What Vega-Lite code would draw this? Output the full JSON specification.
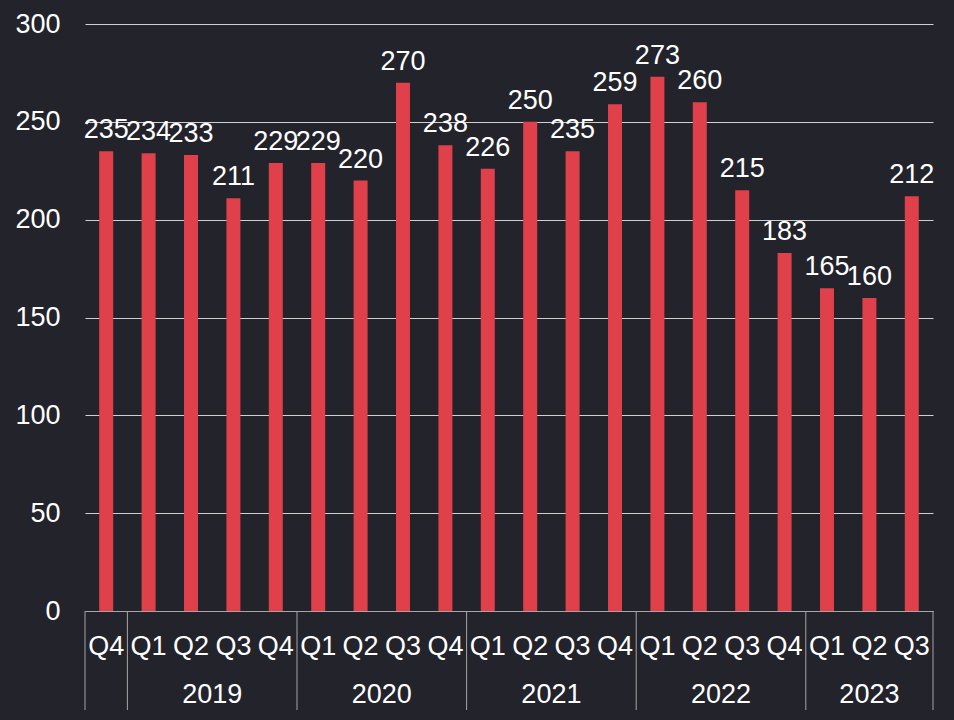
{
  "$schema": "https://vega.github.io/schema/vega-lite/v6.json",
  "width": 848,
  "height": 587,
  "autosize": {"type": "none"},
  "padding": {"left": 85, "top": 24, "right": 21, "bottom": 109},
  "background": "#23232b",
  "config": {
    "view": {"stroke": null},
    "font": "Liberation Sans",
    "text": {"font": "Liberation Sans"}
  },
  "data": {
    "values": [
      {"period": "2018 Q4", "year": "2018", "quarter": "Q4", "value": 235},
      {"period": "2019 Q1", "year": "2019", "quarter": "Q1", "value": 234},
      {"period": "2019 Q2", "year": "2019", "quarter": "Q2", "value": 233},
      {"period": "2019 Q3", "year": "2019", "quarter": "Q3", "value": 211},
      {"period": "2019 Q4", "year": "2019", "quarter": "Q4", "value": 229},
      {"period": "2020 Q1", "year": "2020", "quarter": "Q1", "value": 229},
      {"period": "2020 Q2", "year": "2020", "quarter": "Q2", "value": 220},
      {"period": "2020 Q3", "year": "2020", "quarter": "Q3", "value": 270},
      {"period": "2020 Q4", "year": "2020", "quarter": "Q4", "value": 238},
      {"period": "2021 Q1", "year": "2021", "quarter": "Q1", "value": 226},
      {"period": "2021 Q2", "year": "2021", "quarter": "Q2", "value": 250},
      {"period": "2021 Q3", "year": "2021", "quarter": "Q3", "value": 235},
      {"period": "2021 Q4", "year": "2021", "quarter": "Q4", "value": 259},
      {"period": "2022 Q1", "year": "2022", "quarter": "Q1", "value": 273},
      {"period": "2022 Q2", "year": "2022", "quarter": "Q2", "value": 260},
      {"period": "2022 Q3", "year": "2022", "quarter": "Q3", "value": 215},
      {"period": "2022 Q4", "year": "2022", "quarter": "Q4", "value": 183},
      {"period": "2023 Q1", "year": "2023", "quarter": "Q1", "value": 165},
      {"period": "2023 Q2", "year": "2023", "quarter": "Q2", "value": 160},
      {"period": "2023 Q3", "year": "2023", "quarter": "Q3", "value": 212}
    ]
  },
  "layer": [
    {
      "encoding": {
        "x": {
          "field": "period",
          "type": "ordinal",
          "sort": "ascending",
          "scale": {"paddingInner": 0, "paddingOuter": 0},
          "axis": {
            "title": null,
            "labelExpr": "split(datum.label, ' ')[1]",
            "labelAngle": 0,
            "labelFontSize": 27,
            "labelColor": "#ffffff",
            "labelFont": "Liberation Sans",
            "labelPadding": 22,
            "ticks": false,
            "domainColor": "#a6a6a6",
            "domainWidth": 1,
            "grid": false
          }
        },
        "y": {
          "field": "value",
          "type": "quantitative",
          "scale": {"domain": [0, 300], "nice": false, "zero": true},
          "axis": {
            "title": null,
            "values": [0, 50, 100, 150, 200, 250, 300],
            "labelFontSize": 27,
            "labelColor": "#ffffff",
            "labelFont": "Liberation Sans",
            "labelPadding": 25,
            "ticks": false,
            "domain": false,
            "grid": true,
            "gridColor": "#d0d0d0",
            "gridWidth": 1
          }
        }
      },
      "layer": [
        {
          "mark": {"type": "bar", "color": "#e0404a", "width": {"band": 0.33}}
        },
        {
          "mark": {
            "type": "text",
            "color": "#ffffff",
            "fontSize": 27,
            "baseline": "alphabetic",
            "dy": -13
          },
          "encoding": {"text": {"field": "value", "type": "quantitative"}}
        },
        {
          "transform": [
            {"filter": "datum.quarter == 'Q1' || datum.period == '2018 Q4'"}
          ],
          "mark": {"type": "rule", "color": "#a6a6a6", "strokeWidth": 1},
          "encoding": {
            "x": {"field": "period", "type": "ordinal", "bandPosition": 0},
            "y": {"datum": 0},
            "y2": {"datum": -50.6}
          }
        },
        {
          "transform": [{"filter": "datum.period == '2023 Q3'"}],
          "mark": {"type": "rule", "color": "#a6a6a6", "strokeWidth": 1},
          "encoding": {
            "x": {"field": "period", "type": "ordinal", "bandPosition": 1},
            "y": {"datum": 0},
            "y2": {"datum": -50.6}
          }
        }
      ]
    },
    {
      "transform": [
        {"window": [{"op": "row_number", "as": "row"}], "sort": [{"field": "period", "order": "ascending"}]},
        {"aggregate": [{"op": "mean", "field": "row", "as": "center"}], "groupby": ["year"]},
        {"filter": "datum.year != '2018'"}
      ],
      "mark": {
        "type": "text",
        "color": "#ffffff",
        "fontSize": 27,
        "baseline": "alphabetic",
        "align": "center"
      },
      "encoding": {
        "x": {
          "field": "center",
          "type": "quantitative",
          "scale": {"domain": [0.5, 20.5], "nice": false, "zero": false},
          "axis": null
        },
        "y": {"datum": -47},
        "text": {"field": "year", "type": "nominal"}
      }
    }
  ],
  "resolve": {"scale": {"x": "independent"}}
}
